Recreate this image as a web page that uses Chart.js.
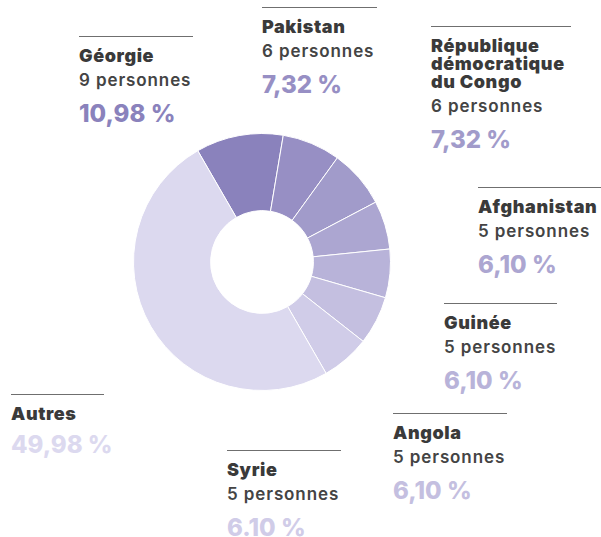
<!DOCTYPE html>
<html lang="fr">
<head>
<meta charset="utf-8">
<title>Répartition par pays</title>
<script src="https://cdn.jsdelivr.net/npm/chart.js@4"></script>
<style>
    html, body { margin: 0; padding: 0; background: #ffffff; }
    #wrap { position: relative; width: 601px; height: 537px; overflow: hidden; font-family: Inter, sans-serif; }
    #donut { position: absolute; left: 133px; top: 133px; width: 258px; height: 258px; }
    .lbl { position: absolute; border-top: 1.5px solid #6f6f6f; }
    .lbl .name { margin-top: 10px; font-size: 18px; line-height: 18px; font-weight: 900; color: #3a3a3a; letter-spacing: 0.6px; white-space: nowrap; }
    .lbl .count { font-size: 17px; line-height: 30px; font-weight: 600; color: #444444; letter-spacing: 0.9px; white-space: nowrap; }
    .lbl .pct { font-size: 24px; line-height: 37px; font-weight: 800; white-space: nowrap; }
</style>
</head>
<body>
<div id="wrap">
    <div id="donut"><canvas id="chart"></canvas></div>
</div>
<script>
// Data, in slice order (clockwise from Géorgie)
const countries = ['Géorgie', 'Pakistan', 'République\ndémocratique\ndu Congo', 'Afghanistan', 'Guinée', 'Angola', 'Syrie', 'Autres'];
const persons = [9, 6, 6, 5, 5, 5, 5, null];
const shares = [10.98, 7.32, 7.32, 6.10, 6.10, 6.10, 6.10, 49.98];
const shareLabels = ['10,98 %', '7,32 %', '7,32 %', '6,10 %', '6,10 %', '6,10 %', '6.10 %', '49,98 %'];
const sliceColors = ['#8a82bc', '#978fc4', '#a19bca', '#aca6d1', '#b8b3d9', '#c4bfe0', '#d0cce8', '#dcd9ef'];

// Label block placement (left, top of rule, rule width)
const labelPos = [
    [79, 36, 114], [262, 7, 115], [431, 26, 140], [478, 187, 123],
    [444, 303, 113], [393, 413, 114], [227, 450, 114], [11, 394, 93]
];

const ctx = document.getElementById('chart');
new Chart(ctx, {
    type: 'doughnut',
    data: {
        labels: countries.map(c => c.replace(/\n/g, ' ')),
        datasets: [{
            data: shares,
            backgroundColor: sliceColors,
            borderColor: '#ffffff',
            borderWidth: 1,
            hoverOffset: 0
        }]
    },
    options: {
        responsive: true,
        maintainAspectRatio: false,
        animation: false,
        cutout: '40%',
        rotation: -30,
        layout: { padding: 0 },
        plugins: {
            legend: { display: false },
            tooltip: {
                callbacks: { label: item => ' ' + shareLabels[item.dataIndex] }
            }
        }
    }
});

// Text labels around the ring
const wrap = document.getElementById('wrap');
countries.forEach((name, i) => {
    const [x, y, w] = labelPos[i];
    const box = document.createElement('div');
    box.className = 'lbl';
    box.style.left = x + 'px';
    box.style.top = y + 'px';
    box.style.width = w + 'px';

    const title = document.createElement('div');
    title.className = 'name';
    title.innerHTML = name.split('\n').join('<br>');
    box.appendChild(title);

    if (persons[i] !== null) {
        const count = document.createElement('div');
        count.className = 'count';
        count.textContent = persons[i] + ' personnes';
        box.appendChild(count);
    }

    const pct = document.createElement('div');
    pct.className = 'pct';
    pct.style.color = sliceColors[i];
    if (persons[i] === null) pct.style.marginTop = '3px';
    pct.textContent = shareLabels[i];
    box.appendChild(pct);

    wrap.appendChild(box);
});
</script>
</body>
</html>
